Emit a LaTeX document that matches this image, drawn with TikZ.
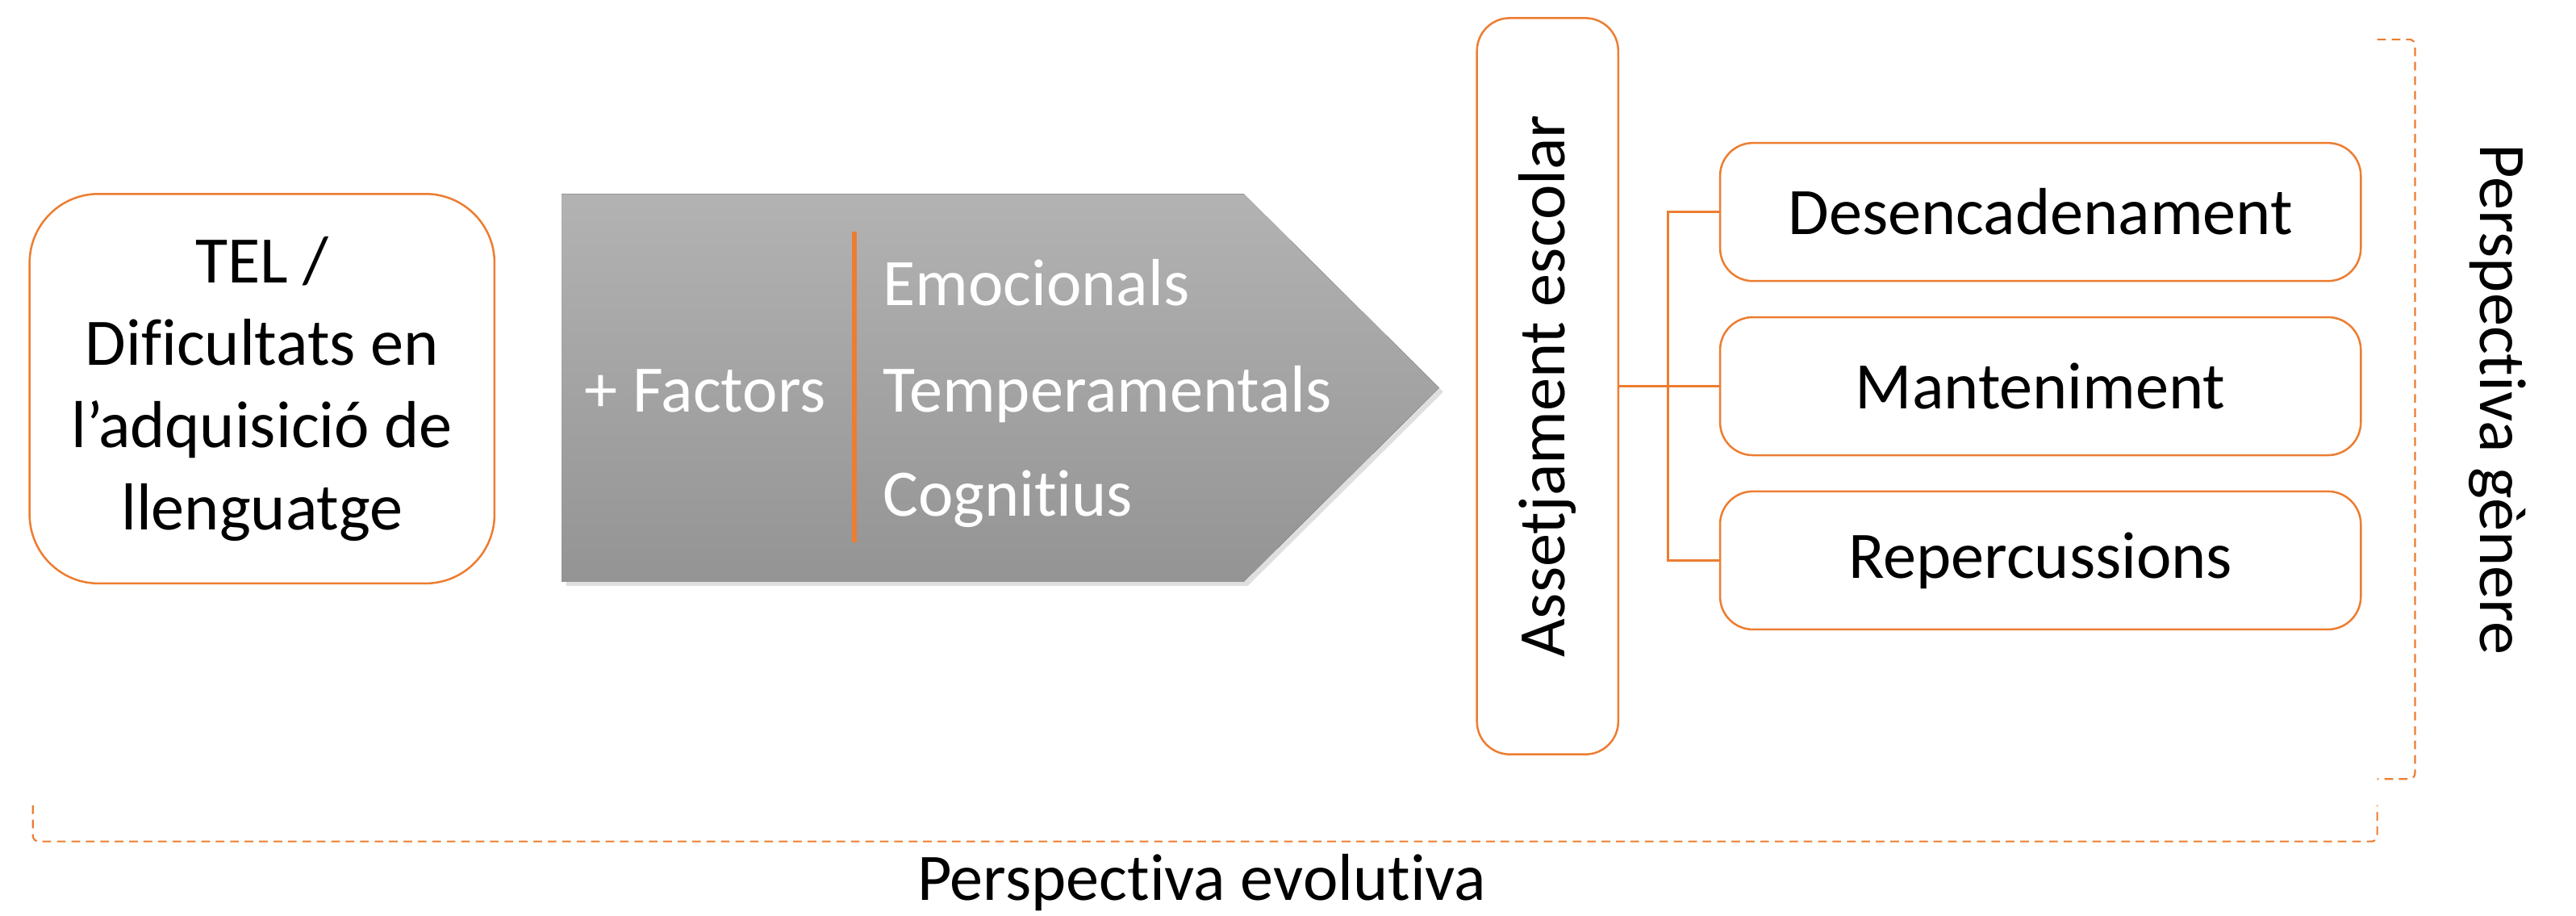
\documentclass[tikz,border=0pt]{standalone}
\usepackage{fontspec}
\setmainfont{Carlito}[Ligatures={TeX,NoCommon}]
\usetikzlibrary{positioning,shadows}
\definecolor{orng}{HTML}{ED7D31}

\begin{document}
\begin{tikzpicture}[x=0.2mm,y=-0.2mm,node distance=21.2mm,on grid,
    font=\fontsize{23}{28.5}\selectfont,
    frame/.style={draw=orng,line width=0.7pt},
    telbox/.style={frame,rounded corners=8.4mm,align=center,minimum width=56.6mm,minimum height=47.4mm},
    subbox/.style={frame,rounded corners=4mm,minimum width=78mm,minimum height=16.8mm},
    bullbox/.style={frame,rounded corners=4mm,minimum width=89.6mm,minimum height=17.2mm},
    factor/.style={text=white,inner sep=0pt},
    link/.style={draw=orng,line width=0.7pt},
    bracket/.style={draw=orng,line width=0.6pt,dash pattern=on 3pt off 2pt,rounded corners=2pt}]
  \useasboundingbox (0,0) rectangle (1568,557);

  \node[telbox] (tel) at (159.5,236.5) {TEL /\\Dificultats en\\l’adquisició de\\llenguatge};

  % grey arrow with the factors
  \fill[top color=black!30,bottom color=black!42,
        drop shadow={opacity=0.25,shadow xshift=0.5mm,shadow yshift=-0.5mm}]
    (342,118) -- (757,118) -- (876,236) -- (757,354) -- (342,354) -- cycle;
  \draw[orng,line width=1.8pt] (520,141) -- (520,330);
  \node[factor,anchor=base east] (plus) at (503,250.5) {+ Factors};
  \node[factor,anchor=base west] (emo) at (537,186) {Emocionals};
  \node[factor,anchor=base west] (temp) at (537,250.5) {Temperamentals};
  \node[factor,anchor=base west] (cog) at (537,314) {Cognitius};

  \node[bullbox,rotate=90] (bull) at (942,235) {Assetjament escolar};
  \node[subbox] (man) at (1242,235) {Manteniment};
  \node[subbox] (des) [above=of man] {Desencadenament};
  \node[subbox] (rep) [below=of man] {Repercussions};
  \draw[link] (bull.south) -- (man.west);
  \draw[link] (des.west) -- ++(-31,0) |- (rep.west);

  % brackets
  \draw[bracket] (1447,24) -- (1470,24) -- (1470,474) -- (1447,474);
  \draw[bracket] (20,490) -- (20,512) -- (1447,512) -- (1447,490);
  \node[rotate=-90,anchor=base] (gen) at (1510,243) {Perspectiva gènere};
  \node[anchor=base] (evo) at (731.5,548) {Perspectiva evolutiva};
\end{tikzpicture}
\end{document}
